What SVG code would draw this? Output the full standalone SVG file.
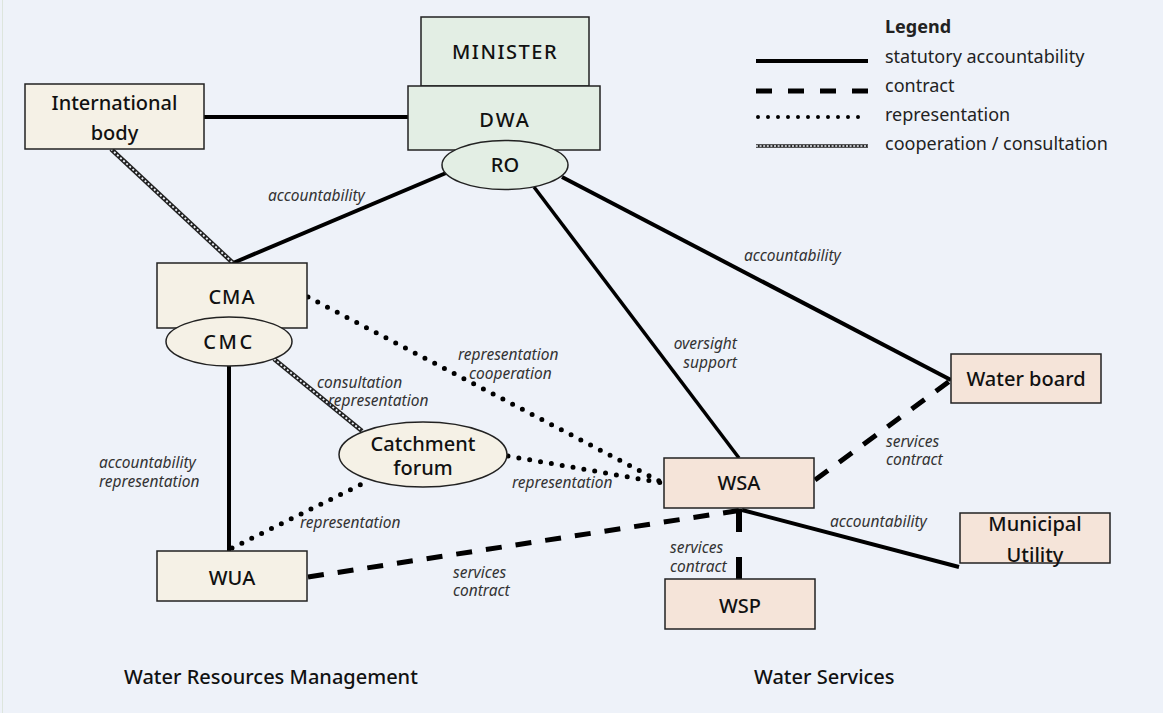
<svg xmlns="http://www.w3.org/2000/svg" width="1163" height="713" viewBox="0 0 1163 713">
<style>
.bg{fill:#eef2f9}
.g{fill:#e3eee4;stroke:#222;stroke-width:1.5}
.c{fill:#f5f1e6;stroke:#222;stroke-width:1.5}
.p{fill:#f5e4d9;stroke:#222;stroke-width:1.5}
.n{font-family:"Noto Sans","Open Sans","DejaVu Sans",sans-serif;font-size:20px;font-weight:500;fill:#111;text-anchor:middle}
.h{font-family:"Noto Sans","Open Sans","DejaVu Sans",sans-serif;font-size:20px;font-weight:500;fill:#111}
.l{font-family:"Noto Sans","Open Sans","DejaVu Sans",sans-serif;font-size:15.5px;font-style:italic;fill:#333}
.lg{font-family:"Noto Sans","Open Sans","DejaVu Sans",sans-serif;font-size:18px;fill:#222}
.solid{stroke:#000;stroke-width:4;fill:none}
.dash{stroke:#000;stroke-width:5;fill:none;stroke-dasharray:16 14}
.dot{stroke:#000;stroke-width:5;fill:none;stroke-linecap:round;stroke-dasharray:0 11}
.coopA{stroke:#222;stroke-width:4.5;fill:none}
.coopB{stroke:#eef2f9;stroke-width:1.8;fill:none;stroke-dasharray:2 2.2}
</style>
<rect class="bg" x="0" y="0" width="1163" height="713"/>
<line x1="2.5" y1="0" x2="2.5" y2="713" stroke="#dde5dd" stroke-width="1"/>

<g id="connectors">
  <line class="solid" x1="204" y1="117" x2="408" y2="117"/>
  <line class="solid" x1="446" y1="173" x2="233" y2="263"/>
  <line class="solid" style="stroke-width:3.5" x1="534" y1="187" x2="739" y2="458"/>
  <line class="solid" x1="562" y1="177" x2="951" y2="380"/>
  <line class="coopA" x1="111" y1="149" x2="233" y2="263"/>
  <line class="coopB" x1="111" y1="149" x2="233" y2="263"/>
  <line class="coopA" x1="274" y1="359" x2="362" y2="431"/>
  <line class="coopB" x1="274" y1="359" x2="362" y2="431"/>
  <line class="solid" x1="229" y1="366" x2="229" y2="551"/>
  <line class="dot" x1="308" y1="297" x2="663" y2="483"/>
  <line class="dot" x1="508" y1="456" x2="663" y2="483"/>
  <line class="dot" x1="232" y1="548" x2="364" y2="483"/>
  <line class="dash" x1="308" y1="577" x2="742" y2="510"/>
  <line class="dash" x1="815" y1="480" x2="951" y2="380"/>
  <line class="solid" x1="742" y1="510" x2="959" y2="567"/>
  <line stroke="#000" stroke-width="6" stroke-dasharray="23 25" x1="739" y1="509" x2="739" y2="580"/>
</g>

<g id="labels">
  <text class="l" x="268" y="201">accountability</text>
  <text class="l" x="317" y="388">consultation</text>
  <text class="l" x="328" y="406">representation</text>
  <text class="l" x="458" y="360">representation</text>
  <text class="l" x="469" y="379">cooperation</text>
  <text class="l" x="99" y="468">accountability</text>
  <text class="l" x="99" y="487">representation</text>
  <text class="l" x="512" y="488">representation</text>
  <text class="l" x="300" y="528">representation</text>
  <text class="l" x="453" y="578">services</text>
  <text class="l" x="453" y="596">contract</text>
  <text class="l" x="737" y="349" text-anchor="end">oversight</text>
  <text class="l" x="737" y="368" text-anchor="end">support</text>
  <text class="l" x="744" y="261">accountability</text>
  <text class="l" x="886" y="447">services</text>
  <text class="l" x="886" y="465">contract</text>
  <text class="l" x="830" y="527">accountability</text>
  <text class="l" x="670" y="553">services</text>
  <text class="l" x="670" y="572">contract</text>
</g>

<g id="minister">
  <rect class="g" x="421" y="17" width="168" height="69"/>
  <text class="n" x="505" y="59" letter-spacing="1.5">MINISTER</text>
</g>
<g id="dwa">
  <rect class="g" x="408" y="86" width="192" height="64"/>
  <text class="n" x="505" y="127" letter-spacing="2">DWA</text>
</g>
<g id="ro">
  <ellipse class="g" cx="505" cy="165" rx="63" ry="24.5"/>
  <text class="n" x="505" y="172">RO</text>
</g>
<g id="international-body">
  <rect class="c" x="25" y="84" width="179" height="65"/>
  <text class="n" x="114.5" y="110">International</text>
  <text class="n" x="114.5" y="140">body</text>
</g>
<g id="cma">
  <rect class="c" x="157" y="263" width="150" height="65"/>
  <text class="n" x="232" y="304" letter-spacing="1">CMA</text>
</g>
<g id="cmc">
  <ellipse class="c" cx="229" cy="341.5" rx="63" ry="24.5"/>
  <text class="n" x="229" y="348.5" letter-spacing="2.5">CMC</text>
</g>
<g id="catchment-forum">
  <ellipse class="c" cx="423" cy="454.5" rx="84" ry="32.5"/>
  <text class="n" x="423" y="451">Catchment</text>
  <text class="n" x="423" y="475">forum</text>
</g>
<g id="wua">
  <rect class="c" x="157" y="551" width="150" height="50"/>
  <text class="n" x="232" y="585">WUA</text>
</g>
<g id="wsa">
  <rect class="p" x="664" y="458" width="150" height="50"/>
  <text class="n" x="739" y="490">WSA</text>
</g>
<g id="water-board">
  <rect class="p" x="951" y="354" width="150" height="49"/>
  <text class="n" x="1026" y="386">Water board</text>
</g>
<g id="municipal-utility">
  <rect class="p" x="960" y="513" width="150" height="50"/>
  <text class="n" x="1035" y="531">Municipal</text>
  <text class="n" x="1035" y="562">Utility</text>
</g>
<g id="wsp">
  <rect class="p" x="665" y="579" width="150" height="50"/>
  <text class="n" x="740" y="613">WSP</text>
</g>

<g id="sections">
  <text class="h" x="124" y="684">Water Resources Management</text>
  <text class="h" x="754" y="684">Water Services</text>
</g>

<g id="legend">
  <text class="lg" x="885" y="33" font-weight="bold">Legend</text>
  <line class="solid" x1="756" y1="61" x2="868" y2="61"/>
  <text class="lg" x="885" y="63">statutory accountability</text>
  <line stroke="#000" stroke-width="5" stroke-dasharray="16 16" x1="756" y1="91" x2="868" y2="91"/>
  <text class="lg" x="885" y="92">contract</text>
  <line class="dot" style="stroke-width:4;stroke-dasharray:0 10" x1="758" y1="117" x2="868" y2="117"/>
  <text class="lg" x="885" y="121">representation</text>
  <line stroke="#222" stroke-width="3.5" x1="756" y1="146" x2="868" y2="146"/>
  <line stroke="#eef2f9" stroke-width="1.6" stroke-dasharray="2 1.6" x1="756" y1="146" x2="868" y2="146"/>
  <text class="lg" x="885" y="150">cooperation / consultation</text>
</g>
</svg>
